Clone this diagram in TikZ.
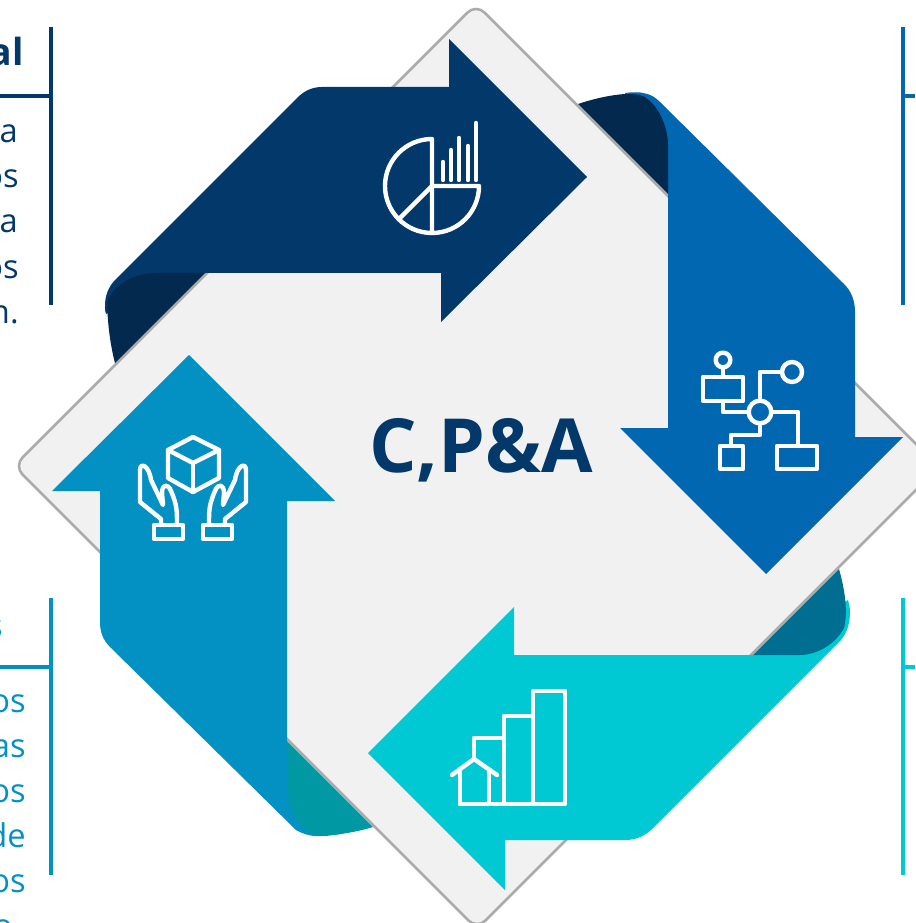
\documentclass[tikz,border=0pt]{standalone}
\usepackage{fontspec}
\setmainfont{Open Sans}

\definecolor{navyC}{HTML}{02386A}
\definecolor{navyD}{HTML}{032A4E}
\definecolor{blueC}{HTML}{0067B0}
\definecolor{cyanC}{HTML}{00C9D4}
\definecolor{cyanD}{HTML}{006E91}
\definecolor{skyC}{HTML}{0391C3}
\definecolor{skyD}{HTML}{0098A3}
\definecolor{tileC}{HTML}{F1F1F1}
\definecolor{tileB}{HTML}{ABABAB}

\tikzset{
  bodytext/.style={anchor=base east, inner sep=0pt, font=\fontsize{24.5}{30}\selectfont},
  headtext/.style={anchor=base east, inner sep=0pt, font=\fontsize{28}{32}\selectfont\bfseries},
  rulebar/.style={line width=3pt},
  iconline/.style={draw=white, line width=3.3pt, line join=round, line cap=round},
}

\begin{document}
\begin{tikzpicture}[x=0.75pt,y=-0.75pt]
    \useasboundingbox (0,0) rectangle (915,923);

    %% tile behind the arrows
    \draw[fill=tileC, draw=tileB, line width=1.9pt, rounded corners=9pt]
        (476,4) -- (939,467) -- (477,929) -- (14,466) -- cycle;

    %% arrows
    \fill[navyC] (205,273) -- (441,273) -- (441,322) -- (587,177) -- (449,39) -- (449,87) -- (322,87)
        .. controls (312,87) and (304,91) .. (297,98) -- (116,279)
        .. controls (108,287) and (105,296) .. (105,306) .. controls (105,309) and (105,312) .. (106,314) -- cycle;
    \fill[blueC] (625,93) .. controls (632,92) and (640,92) .. (643,93)
        .. controls (650,94) and (655,97) .. (660,102) -- (844,284)
        .. controls (851,291) and (855,300) .. (855,312) -- (855,437) -- (903,437) -- (766,574) -- (620,428)
        -- (668,428) -- (668,194) -- cycle;
    \fill[cyanC] (753,655) -- (514,655) -- (514,607) -- (368,753) -- (505,890) -- (505,840) -- (625,840)
        .. controls (636,840) and (645,836) .. (652,829) -- (838,643)
        .. controls (846,636) and (850,625) .. (850,612) .. controls (850,608) and (849,604) .. (848,600) -- cycle;
    \fill[skyC] (287,741) -- (287,501) -- (335,501) -- (189,355) -- (52,491) -- (100,491) -- (100,622)
        .. controls (100,632) and (103,640) .. (110,647) -- (296,830)
        .. controls (303,834) and (312,837) .. (322,836) .. controls (325,836) and (328,836) .. (333,835) -- cycle;

    %% folds
    \fill[navyD] (205,273) -- (156,273) .. controls (134,273) and (114,285) .. (108,300)
        .. controls (106,312) and (110,345) .. (115,363) -- cycle;
    \fill[navyD] (668,194) -- (668,145) .. controls (668,125) and (656,100) .. (640,95)
        .. controls (634,94) and (630,94) .. (625,94) .. controls (610,95) and (593,99) .. (578,104) -- cycle;
    \fill[cyanD] (753,655) -- (800,655) .. controls (818,655) and (836,643) .. (844,628)
        .. controls (848,612) and (845,590) .. (839,569) -- cycle;
    \fill[skyD] (287,741) -- (287,783) .. controls (287,805) and (298,828) .. (312,833)
        .. controls (320,835) and (330,835) .. (335,835) .. controls (348,833) and (360,831) .. (373,827) -- cycle;

    %% side rules
    \draw[rulebar, navyC] (51,27) -- (51,305);
    \draw[rulebar, navyC] (0,96) -- (51,96);
    \draw[rulebar, blueC] (903,27) -- (903,305);
    \draw[rulebar, blueC] (903,96) -- (915,96);
    \draw[rulebar, skyC] (51,598) -- (51,875);
    \draw[rulebar, skyC] (0,667) -- (51,667);
    \draw[rulebar, cyanC] (903,598) -- (903,875);
    \draw[rulebar, cyanC] (903,667) -- (915,667);

    %% side texts
    \node[headtext, text=navyC] (headTL) at (24,66) {al};
    \node[bodytext, text=navyC] (tl1) at (18,143) {a};
    \node[bodytext, text=navyC] (tl2) at (19,188) {os};
    \node[bodytext, text=navyC] (tl3) at (18,233) {a};
    \node[bodytext, text=navyC] (tl4) at (19,278) {os};
    \node[bodytext, text=navyC] (tl5) at (19,323) {n.};

    \node[bodytext, text=skyC] (headBL) at (3,637) {s};
    \node[bodytext, text=skyC] (bl1) at (26,712) {os};
    \node[bodytext, text=skyC] (bl2) at (26,757) {as};
    \node[bodytext, text=skyC] (bl3) at (26,802) {os};
    \node[bodytext, text=skyC] (bl4) at (26,847) {de};
    \node[bodytext, text=skyC] (bl5) at (26,892) {os};
    \node[bodytext, text=skyC] (bl6) at (13,937) {o};

    \node[inner sep=0pt, anchor=base, text=navyC, font=\fontsize{56}{60}\selectfont\bfseries] (title) at (481,472) {C,P\&A};

    %% pie icon
    \draw[iconline] (432,139) arc[start angle=-90, end angle=-270, radius=47] -- cycle;
    \draw[iconline] (432,233) arc[start angle=90, end angle=0, radius=47] -- (432,186);
    \draw[iconline] (432,186) -- (400,218);
    \draw[iconline] (443,162) -- (443,180);
    \draw[iconline] (451,150) -- (451,180);
    \draw[iconline] (459,138) -- (459,180);
    \draw[iconline] (468,146) -- (468,180);
    \draw[iconline] (476,123) -- (476,180);

    %% flow icon
    \draw[iconline] (703,377) rectangle (743,401);
    \draw[iconline] (720,446) rectangle (743,469);
    \draw[iconline] (777,446) rectangle (817,469);
    \node[circle, iconline, minimum size=11pt, inner sep=0pt] (fTop) at (723,360) {};
    \node[circle, iconline, minimum size=15pt, inner sep=0pt] (fEnd) at (792,372) {};
    \node[circle, iconline, minimum size=17pt, inner sep=0pt] (fHub) at (760,412) {};
    \draw[iconline] (fTop) -- (723,377);
    \draw[iconline] (723,401) |- (fHub);
    \draw[iconline] (fHub) |- (fEnd);
    \draw[iconline] (fHub.east) -- (798,412) -- (798,446);
    \draw[iconline] (fHub.south) -- (760,435) -- (731,435) -- (731,446);

    %% hands icon
    \draw[iconline] (193,437) -- (219,450) -- (219,478) -- (193,492) -- (168,478) -- (168,450) -- cycle;
    \draw[iconline] (168,450) -- (193,463) -- (219,450);
    \draw[iconline] (193,463) -- (193,492);
    \draw[iconline] (154,525) rectangle (183,539);
    \draw[iconline] (203,525) rectangle (232,539);
    \draw[iconline] (161,525) -- (161,519) -- (140,502) -- (140,470)
        .. controls (140,462) and (149,465) .. (151,480) -- (163,505) -- (162,493)
        .. controls (162,484) and (168,483) .. (171,491) .. controls (177,505) and (177,510) .. (177,525);
    \draw[iconline] (225,525) -- (225,519) -- (246,502) -- (246,470)
        .. controls (246,462) and (237,465) .. (235,480) -- (223,505) -- (224,493)
        .. controls (224,484) and (218,483) .. (215,491) .. controls (209,505) and (209,510) .. (209,525);

    %% bars icon
    \draw[iconline] (460,804) -- (565,804) -- (565,691) -- (533,691) -- (533,804);
    \draw[iconline] (504,804) -- (504,716) -- (533,716);
    \draw[iconline] (474,759) -- (474,738) -- (504,738);
    \draw[iconline] (452,775) -- (474,759) -- (497,775);
    \draw[iconline] (460,772) -- (460,804);
    \draw[iconline] (489,772) -- (489,804);

  \end{tikzpicture}
\end{document}
